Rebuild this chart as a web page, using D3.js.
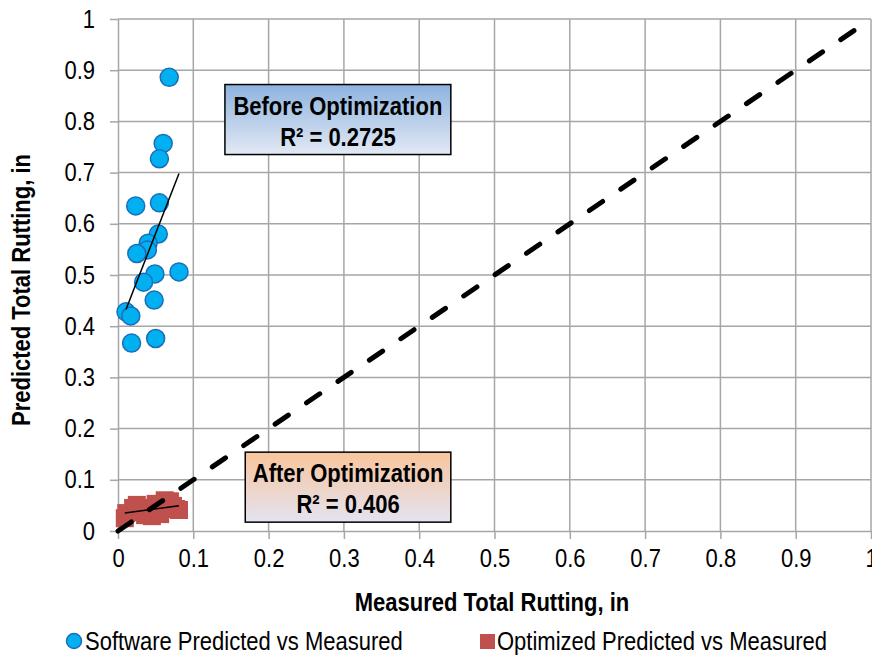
<!DOCTYPE html>
<html>
<head>
<meta charset="utf-8">
<script src="https://cdn.jsdelivr.net/npm/d3@7"></script>
<style>
  body { margin: 0; background: #fff; }
  text { font-family: "Liberation Sans", Arial, sans-serif; }
</style>
</head>
<body>
<svg id="chart" width="872" height="658"></svg>
<script>
// measured vs predicted rutting (in)
const softwareMeasured  = [0.068, 0.060, 0.055, 0.0235, 0.055, 0.0535, 0.040, 0.039, 0.025, 0.049, 0.081, 0.034, 0.048, 0.0106, 0.017, 0.018, 0.050];
const softwarePredicted = [0.886, 0.757, 0.727, 0.635, 0.641, 0.580, 0.562, 0.549, 0.542, 0.502, 0.506, 0.486, 0.451, 0.428, 0.420, 0.367, 0.376];

const optimizedMeasured  = [0.009, 0.011, 0.020, 0.029, 0.036, 0.040, 0.045, 0.050, 0.056, 0.062, 0.069, 0.077, 0.081, 0.073, 0.025];
const optimizedPredicted = [0.025, 0.035, 0.045, 0.037, 0.031, 0.045, 0.029, 0.053, 0.033, 0.060, 0.058, 0.043, 0.041, 0.049, 0.051];

const ticks = [0, 0.1, 0.2, 0.3, 0.4, 0.5, 0.6, 0.7, 0.8, 0.9, 1];
const boxLabels = [
  { title: "Before Optimization", r2: "R\u00b2 = 0.2725", x: 0.142, y: 0.872, w: 0.3, top: "#8eb3df", bottom: "#e2e9f4" },
  { title: "After Optimization",  r2: "R\u00b2 = 0.406",  x: 0.169, y: 0.154, w: 0.273, top: "#f9c59c", bottom: "#e3e3f1" }
];

const svg = d3.select('#chart');
const plotLeft = 118, plotRight = 871, plotTop = 19, plotBottom = 531;
const fontSize = 25, squeeze = 0.88; // the reference type is narrow, so squash a regular face

let x = d3.scaleLinear().domain([0, 1]).range([plotLeft, plotRight]);
let y = d3.scaleLinear().domain([0, 1]).range([plotBottom, plotTop]);

// move x/y into a transform so the text can be squeezed horizontally about its anchor
function condense(sel) {
    sel.each(function() {
        let t = d3.select(this);
        let tx = +t.attr('x') || 0, ty = +t.attr('y') || 0;
        let prev = t.attr('transform') || '';
        t.attr('x', 0).attr('y', 0)
         .attr('transform', `${prev} translate(${tx},${ty}) scale(${squeeze},1)`);
    });
}

// grid
let grid = svg.append('g').attr('stroke', '#a6a6a6').attr('stroke-width', 1.5);
grid.selectAll('.gx').data(ticks.slice(1)).enter().append('line')
    .attr('x1', d => x(d)).attr('x2', d => x(d))
    .attr('y1', plotTop).attr('y2', plotBottom);
grid.selectAll('.gy').data(ticks.slice(1)).enter().append('line')
    .attr('x1', plotLeft).attr('x2', plotRight)
    .attr('y1', d => y(d)).attr('y2', d => y(d));

// axes
let fmt = d => d === 0 ? '0' : d === 1 ? '1' : d3.format('.1f')(d);
let xAxis = svg.append('g')
    .attr('transform', `translate(0,${plotBottom})`)
    .call(d3.axisBottom(x).tickValues(ticks).tickFormat(fmt).tickSizeInner(8).tickSizeOuter(0).tickPadding(10));
let yAxis = svg.append('g')
    .attr('transform', `translate(${plotLeft},0)`)
    .call(d3.axisLeft(y).tickValues(ticks).tickFormat(fmt).tickSizeInner(8).tickSizeOuter(0).tickPadding(15));
[xAxis, yAxis].forEach(a => {
    a.select('.domain').attr('stroke', '#a6a6a6').attr('stroke-width', 1.5);
    a.selectAll('.tick line').attr('stroke', '#a6a6a6').attr('stroke-width', 1.5);
    a.selectAll('.tick text').attr('font-size', fontSize).attr('fill', '#000')
        .style('font-family', '"Liberation Sans", Arial, sans-serif')
        .call(condense);
});

// axis titles
svg.append('text')
    .attr('x', 492).attr('y', 611)
    .attr('text-anchor', 'middle').attr('font-size', fontSize).attr('font-weight', 'bold')
    .text('Measured Total Rutting, in')
    .call(condense);
svg.append('text')
    .attr('transform', `translate(30,290) rotate(-90)`)
    .attr('text-anchor', 'middle').attr('font-size', fontSize).attr('font-weight', 'bold')
    .text('Predicted Total Rutting, in')
    .call(condense);

// least-squares trendline spanning the measured range
function trend(xs, ys) {
    let mx = d3.mean(xs), my = d3.mean(ys);
    let sxy = d3.sum(xs, (v, i) => (v - mx) * (ys[i] - my));
    let sxx = d3.sum(xs, v => (v - mx) * (v - mx));
    let b = sxy / sxx, a = my - b * mx;
    let x0 = d3.min(xs), x1 = d3.max(xs);
    return [[x0, a + b * x0], [x1, a + b * x1]];
}

let software = softwareMeasured.map((v, i) => [v, softwarePredicted[i]]);
let optimized = optimizedMeasured.map((v, i) => [v, optimizedPredicted[i]]);

// blue circles
svg.append('g').selectAll('circle').data(software).enter().append('circle')
    .attr('cx', d => x(d[0])).attr('cy', d => y(d[1])).attr('r', 9)
    .attr('fill', '#00b0f0').attr('stroke', '#1a6eb8').attr('stroke-width', 1.5);

// red squares
let sq = 18;
svg.append('g').selectAll('rect').data(optimized).enter().append('rect')
    .attr('x', d => x(d[0]) - sq / 2).attr('y', d => y(d[1]) - sq / 2)
    .attr('width', sq).attr('height', sq)
    .attr('fill', '#c0504d');

// trendlines
let line = d3.line().x(d => x(d[0])).y(d => y(d[1]));
[software, optimized].forEach(s => {
    svg.append('path')
        .attr('d', line(trend(s.map(d => d[0]), s.map(d => d[1]))))
        .attr('stroke', '#000').attr('stroke-width', 1.5).attr('fill', 'none');
});

// line of equality
svg.append('path')
    .attr('d', line([[0, 0], [1, 1]]))
    .attr('stroke', '#000').attr('stroke-width', 5).attr('fill', 'none')
    .attr('stroke-linecap', 'round').attr('stroke-dasharray', '16,22');

// annotation boxes
let defs = svg.append('defs');
boxLabels.forEach((b, i) => {
    let gid = 'grad' + i;
    let grad = defs.append('linearGradient').attr('id', gid).attr('x1', 0).attr('x2', 0).attr('y1', 0).attr('y2', 1);
    grad.append('stop').attr('offset', '0%').attr('stop-color', b.top);
    grad.append('stop').attr('offset', '100%').attr('stop-color', b.bottom);
    let bx = x(b.x), by = y(b.y), bw = x(b.x + b.w) - x(b.x);
    let g = svg.append('g');
    g.append('rect')
        .attr('x', bx).attr('y', by).attr('width', bw).attr('height', 70)
        .attr('fill', `url(#${gid})`).attr('stroke', '#000').attr('stroke-width', 1.5);
    g.append('text')
        .attr('x', bx + bw / 2).attr('y', by + 30)
        .attr('text-anchor', 'middle').attr('font-size', fontSize).attr('font-weight', 'bold')
        .text(b.title)
        .call(condense);
    g.append('text')
        .attr('x', bx + bw / 2).attr('y', by + 61)
        .attr('text-anchor', 'middle').attr('font-size', fontSize).attr('font-weight', 'bold')
        .text(b.r2)
        .call(condense);
});

// legend
let legend = svg.append('g').attr('font-size', fontSize);
legend.append('circle').attr('cx', 74).attr('cy', 641).attr('r', 7.5)
    .attr('fill', '#00b0f0').attr('stroke', '#1a6eb8').attr('stroke-width', 1.5);
legend.append('text').attr('x', 85).attr('y', 650).text('Software Predicted vs Measured').call(condense);
legend.append('rect').attr('x', 480).attr('y', 634).attr('width', 15).attr('height', 15).attr('fill', '#c0504d');
legend.append('text').attr('x', 497).attr('y', 650).text('Optimized Predicted vs Measured').call(condense);
</script>
</body>
</html>
